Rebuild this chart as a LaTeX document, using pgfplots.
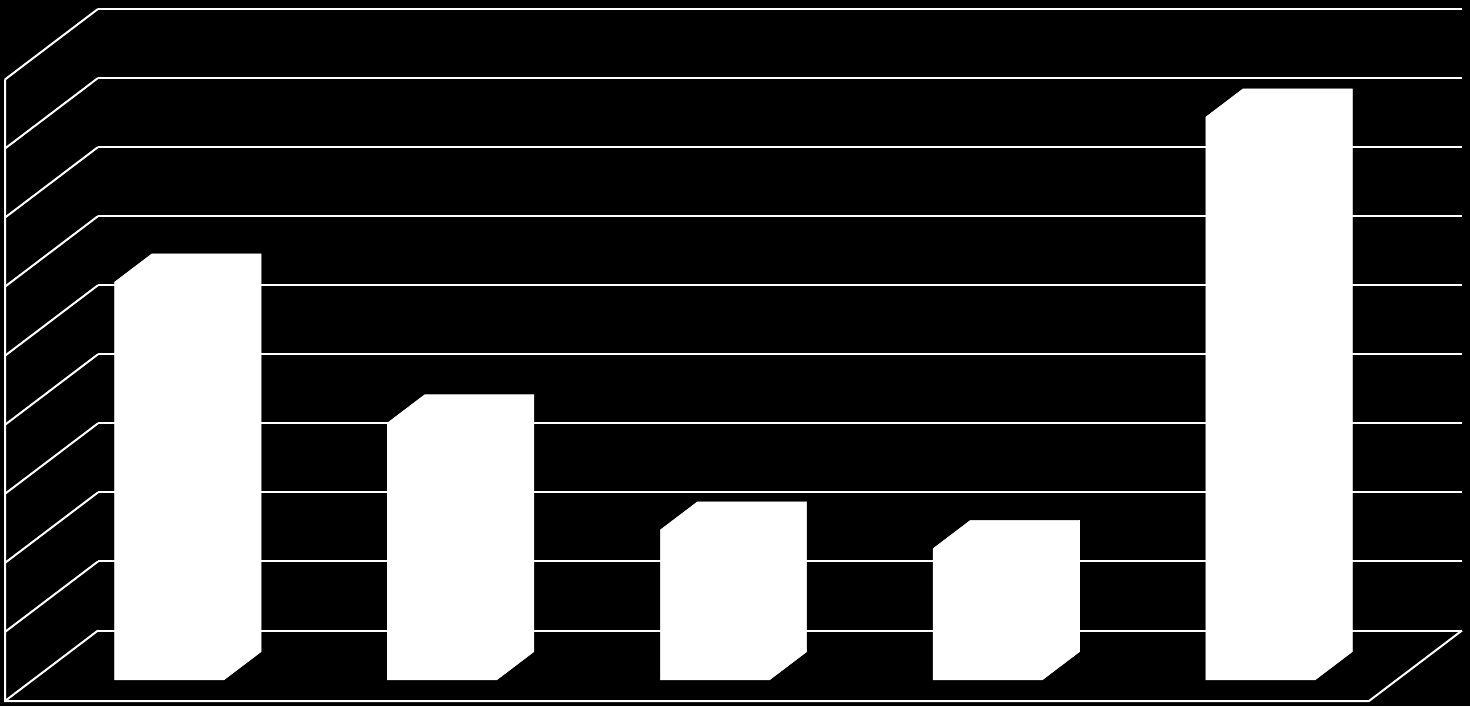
\documentclass[border=0pt]{standalone}
\usepackage{pgfplots}
\pgfplotsset{compat=1.18}
\pgfdeclarelayer{bg}
\pgfsetlayers{bg,main}

\begin{document}
\begin{tikzpicture}
\begin{axis}[
    % oblique projection: 1px of the reference = 0.5pt
    x={(136.4pt,0pt)}, y={(46.5pt,35.25pt)}, z={(0pt,34.53pt)},
    xmin=0, xmax=5, ymin=0, ymax=1, zmin=0, zmax=9,
    xtick=\empty, ytick=\empty,
    ztick={0,1,...,9}, zticklabels={},
    major tick length=0pt,
    zmajorgrids,
    grid style={white, line width=1pt},
    axis line style={draw=none},
    clip=false,
]
% each block drawn as its white silhouette: front, right side and top
\addplot3[fill=white, draw=white, line width=0.3pt, mark=none] coordinates {
    (0.3,0.3,0) (0.7,0.3,0) (0.7,0.7,0) (0.7,0.7,5.76) (0.3,0.7,5.76) (0.3,0.3,5.76)} -- cycle;
\addplot3[fill=white, draw=white, line width=0.3pt, mark=none] coordinates {
    (1.3,0.3,0) (1.7,0.3,0) (1.7,0.7,0) (1.7,0.7,3.72) (1.3,0.7,3.72) (1.3,0.3,3.72)} -- cycle;
\addplot3[fill=white, draw=white, line width=0.3pt, mark=none] coordinates {
    (2.3,0.3,0) (2.7,0.3,0) (2.7,0.7,0) (2.7,0.7,2.17) (2.3,0.7,2.17) (2.3,0.3,2.17)} -- cycle;
\addplot3[fill=white, draw=white, line width=0.3pt, mark=none] coordinates {
    (3.3,0.3,0) (3.7,0.3,0) (3.7,0.7,0) (3.7,0.7,1.90) (3.3,0.7,1.90) (3.3,0.3,1.90)} -- cycle;
\addplot3[fill=white, draw=white, line width=0.3pt, mark=none] coordinates {
    (4.3,0.3,0) (4.7,0.3,0) (4.7,0.7,0) (4.7,0.7,8.15) (4.3,0.7,8.15) (4.3,0.3,8.15)} -- cycle;

% front edges of the box
\draw[white, line width=1pt] (axis cs:0,0,9) -- (axis cs:0,0,0) -- (axis cs:5,0,0) -- (axis cs:5,1,0);

\coordinate (bl) at (axis cs:-0.01833,0,-0.0724);
\coordinate (tr) at (axis cs:5.3703,0,10.1506);
\end{axis}
\begin{pgfonlayer}{bg}
\fill[black] (bl) rectangle (tr);
\end{pgfonlayer}
\pgfresetboundingbox
\path[use as bounding box] (bl) rectangle (tr);
\end{tikzpicture}
\end{document}
